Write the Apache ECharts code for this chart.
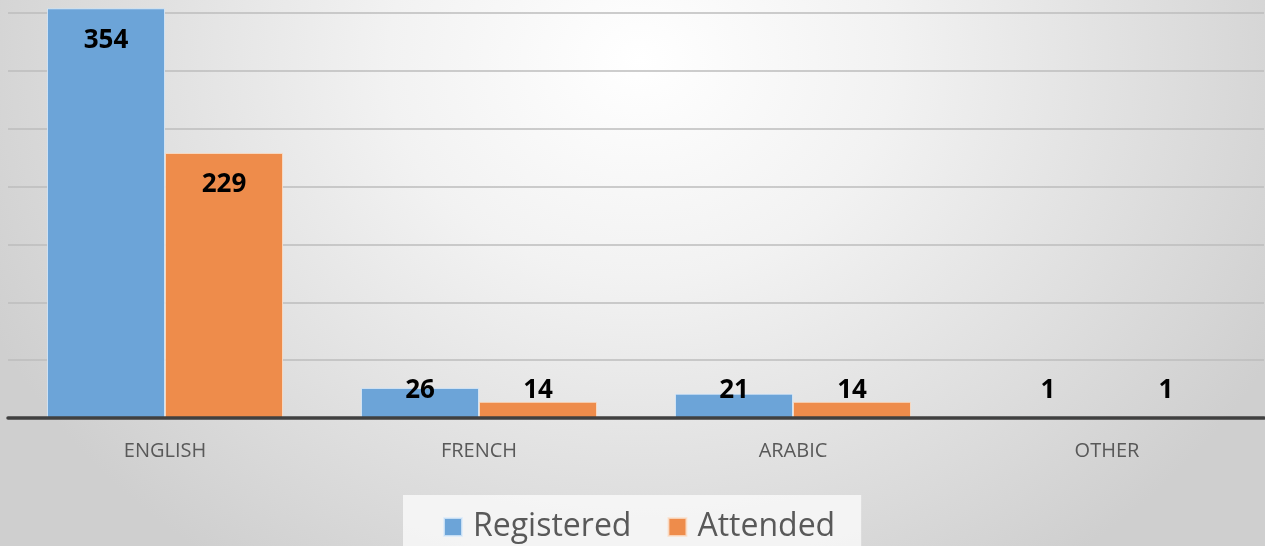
<!DOCTYPE html>
<html>
<head>
<meta charset="utf-8">
<script src="https://cdn.jsdelivr.net/npm/echarts@6/dist/echarts.min.js"></script>
<style>
html,body{margin:0;padding:0;}
#chart{width:1265px;height:546px;background:radial-gradient(ellipse 720px 620px at 640px 60px,#ffffff 0%,#f2f2f2 35%,#cfcfcf 100%);}
</style>
</head>
<body>
<div id="chart"></div>
<script>
const categories = ['ENGLISH', 'FRENCH', 'ARABIC', 'OTHER'];
const registered = [354, 26, 21, 1];
const attended = [229, 14, 14, 1];
const seriesNames = ['Registered', 'Attended'];

function buildData(values) {
  return values.map(v => ({
    value: v,
    label: v > 100 ? { position: 'insideTop', distance: 19 } : { position: 'insideBottom', distance: 14 }
  }));
}

const labelStyle = {
  show: true,
  color: '#000',
  fontWeight: 'bold',
  fontSize: 26,
  fontFamily: 'Open Sans'
};

const chart = echarts.init(document.getElementById('chart'));
chart.setOption({
  backgroundColor: 'transparent',
  animation: false,
  grid: { left: 8, right: 1, top: 8.3, bottom: 128, containLabel: false },
  legend: {
    data: seriesNames,
    left: 403,
    top: 495,
    backgroundColor: 'rgba(250,250,250,0.8)',
    padding: [16, 26, 10, 40],
    itemWidth: 18,
    itemHeight: 18,
    itemGap: 36,
    icon: 'rect',
    textStyle: { fontSize: 32, color: '#595959', fontFamily: 'Open Sans', padding: [0, 0, 0, 6] }
  },
  xAxis: {
    type: 'category',
    data: categories,
    z: 10,
    axisLine: { show: true, lineStyle: { color: '#404040', width: 3.5 } },
    axisTick: { show: false },
    axisLabel: { color: '#595959', fontSize: 20, margin: 23, fontFamily: 'Open Sans' }
  },
  yAxis: {
    type: 'value',
    min: 0,
    max: 354,
    interval: 50,
    axisLabel: { show: false },
    axisLine: { show: false },
    axisTick: { show: false },
    splitLine: { show: true, showMaxLine: false, lineStyle: { color: '#bdbdbd', width: 1.5 } }
  },
  series: [
    {
      name: seriesNames[0],
      type: 'bar',
      data: buildData(registered),
      barWidth: 118,
      barGap: '0%',
      itemStyle: { color: '#6ca4d8', borderColor: 'rgba(220,235,250,0.8)', borderWidth: 1 },
      label: labelStyle
    },
    {
      name: seriesNames[1],
      type: 'bar',
      data: buildData(attended),
      barWidth: 118,
      barGap: '0%',
      itemStyle: { color: '#ee8c4b', borderColor: 'rgba(250,225,205,0.8)', borderWidth: 1 },
      label: labelStyle
    }
  ]
});
</script>
</body>
</html>
